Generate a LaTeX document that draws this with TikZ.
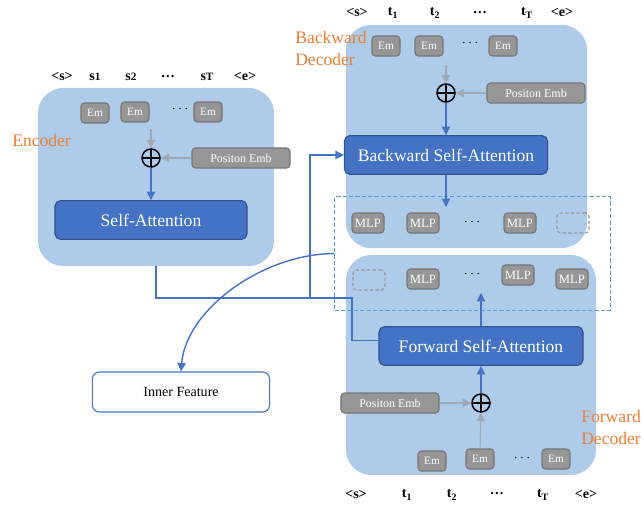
\documentclass[tikz,border=0pt]{standalone}
\usepackage{fontspec}
\setmainfont{Liberation Serif}
\usetikzlibrary{positioning,arrows.meta}
\definecolor{panelblue}{RGB}{174,204,234}
\definecolor{attblue}{RGB}{68,114,196}
\definecolor{attedge}{RGB}{47,82,143}
\definecolor{boxblue}{RGB}{91,155,213}
\definecolor{embgray}{RGB}{150,150,150}
\definecolor{embedge}{RGB}{118,118,118}
\definecolor{feedgray}{RGB}{160,168,180}
\definecolor{labelorange}{RGB}{237,125,49}
\tikzset{
  panel/.style={fill=panelblue, rounded corners=18pt, inner sep=0pt},
  attention/.style={fill=attblue, draw=attedge, thick, rounded corners=4pt, text=white, font=\fontsize{12.5}{14}\selectfont, minimum height=0.97cm},
  embed/.style={fill=embgray, draw=embedge, thick, rounded corners=2.5pt, text=white, font=\fontsize{8}{9}\selectfont, minimum width=0.7cm, minimum height=0.5cm, inner sep=0pt},
  mlp/.style={embed, minimum width=0.8cm, font=\fontsize{9}{10}\selectfont},
  empty slot/.style={draw=embgray, dash pattern=on 2.5pt off 1.5pt, thick, rounded corners=2.5pt, minimum width=0.8cm, minimum height=0.5cm, inner sep=0pt},
  posemb/.style={embed, minimum width=2.45cm, font=\fontsize{8.5}{10}\selectfont},
  token/.style={font=\bfseries\fontsize{10}{12}\selectfont, inner sep=1pt},
  dots/.style={font=\fontsize{10}{12}\selectfont, inner sep=0pt},
  plus/.style={circle, draw, line width=1.1pt, minimum size=0.45cm, inner sep=0pt,
    path picture={\draw[line width=1.1pt] (path picture bounding box.north) -- (path picture bounding box.south)
      (path picture bounding box.west) -- (path picture bounding box.east);}},
  part label/.style={text=labelorange, font=\fontsize{12.5}{15.5}\selectfont, align=left, inner sep=0pt},
  link/.style={draw=attblue, thick, -{Triangle[length=6pt,width=6pt]}},
  plain link/.style={draw=attblue, thick},
  feed/.style={draw=feedgray, thick, -{Triangle[length=6pt,width=6pt]}},
}

\begin{document}
\begin{tikzpicture}[x=0.025cm, y=-0.025cm]
\useasboundingbox (0,0) rectangle (644,512);
% the panels
\node [panel, minimum width=5.9cm, minimum height=4.45cm] (enc) at (156,177) {};
\node [panel, minimum width=6.03cm, minimum height=5.58cm] (bwd) at (466.5,136.5) {};
\node [panel, minimum width=6.25cm, minimum height=5.5cm] (fwd) at (471,365) {};
\node [draw=boxblue, dash pattern=on 3pt off 1.5pt, thick, minimum width=6.88cm, minimum height=2.83cm] (mlpbox) at (472.5,253.5) {};

% encoder
\node [part label, anchor=west] (encLabel) at (12,140) {Encoder};
\node [token] (encS) at (62,76) {<s>};
\node [token] (encS1) at (95,77) {s{\fontsize{8}{9}\selectfont 1}};
\node [token] (encS2) at (131,77) {s{\fontsize{8}{9}\selectfont 2}};
\node [token] (encDots) at (168,77) {…};
\node [token] (encST) at (207,77) {s{\fontsize{8}{9}\selectfont T}};
\node [token] (encE) at (245,76) {<e>};
\node [embed] (encEmA) at (95,113) {Em};
\node [embed] (encEmB) at (135,112) {Em};
\node [dots] (encEmDots) at (180,109) {$\cdots$};
\node [embed] (encEmC) at (208,112) {Em};
\node [plus] (encPlus) at (151,158) {};
\node [posemb] (encPos) at (241,158) {Positon Emb};
\node [attention, minimum width=4.8cm] (encAtt) at (151,220) {Self-Attention};
\coordinate (encIn) at (151,129);

% backward decoder
\node [part label, anchor=north west] (bwdLabel) at (295,31) {Backward\\Decoder};
\node [token] (bwdS) at (357,12) {<s>};
\node [token] (bwdT1) at (393,13) {t$_\mathbf{1}$};
\node [token] (bwdT2) at (435,13) {t$_\mathbf{2}$};
\node [token] (bwdDots) at (480,13) {…};
\node [token] (bwdTT) at (527,13) {t$_\mathbf{T}$};
\node [token] (bwdE) at (562,12) {<e>};
\node [embed] (bwdEmA) at (386,46) {Em};
\node [embed] (bwdEmB) at (429,46) {Em};
\node [dots] (bwdEmDots) at (470,43) {$\cdots$};
\node [embed] (bwdEmC) at (503,46) {Em};
\node [plus] (bwdPlus) at (446,93) {};
\node [posemb] (bwdPos) at (536,93) {Positon Emb};
\node [attention, minimum width=5.08cm] (bwdAtt) at (446,155) {Backward Self-Attention};
\coordinate (bwdIn) at (446,65);
\coordinate (bwdOut) at (446,207);

% MLP rows
\node [mlp] (bwdMlpA) at (368,223) {MLP};
\node [mlp] (bwdMlpB) at (423,223) {MLP};
\node [dots] (bwdMlpDots) at (472,222) {$\cdots$};
\node [mlp] (bwdMlpC) at (520,223) {MLP};
\node [empty slot] (bwdSlot) at (573,223) {};
\node [empty slot] (fwdSlot) at (369,280) {};
\node [mlp] (fwdMlpA) at (423,279) {MLP};
\node [dots] (fwdMlpDots) at (472,274) {$\cdots$};
\node [mlp] (fwdMlpB) at (518,275) {MLP};
\node [mlp] (fwdMlpC) at (572,279) {MLP};

% forward decoder
\node [attention, minimum width=5.1cm] (fwdAtt) at (481,346) {Forward Self-Attention};
\node [plus] (fwdPlus) at (481,403) {};
\node [posemb] (fwdPos) at (390,403) {Positon Emb};
\node [embed] (fwdEmA) at (432,461) {Em};
\node [embed] (fwdEmB) at (480,459) {Em};
\node [dots] (fwdEmDots) at (522,458) {$\cdots$};
\node [embed] (fwdEmC) at (556,459) {Em};
\node [part label, anchor=north west] (fwdLabel) at (581,410) {Forward\\Decoder};
\node [token] (fwdS) at (356,494) {<s>};
\node [token] (fwdT1) at (407,495) {t$_\mathbf{1}$};
\node [token] (fwdT2) at (452,495) {t$_\mathbf{2}$};
\node [token] (fwdDots) at (497,494) {…};
\node [token] (fwdTT) at (543,495) {t$_\mathbf{T}$};
\node [token] (fwdE) at (586,494) {<e>};
\coordinate (fwdOut) at (481,293);

% inner feature
\node [draw=attblue, thick, fill=white, rounded corners=5pt, minimum width=4.43cm, minimum height=1cm, font=\fontsize{10}{12}\selectfont] (inner) at (181,392) {Inner Feature};

%drawings of vectors
\draw[feed] (encIn) -- (encPlus.north);
\draw[feed] (encPos.west) -- (encPlus.east);
\draw[link] (encPlus.south) -- (encAtt.north);

\draw[feed] (bwdIn) -- (bwdPlus.north);
\draw[feed] (bwdPos.west) -- (bwdPlus.east);
\draw[link] (bwdPlus.south) -- (bwdAtt.north);
\draw[link] (bwdAtt.south) -- (bwdOut);

\draw[feed] (fwdEmB.north) -- (fwdPlus.south);
\draw[feed] (fwdPos.east) -- (fwdPlus.west);
\draw[link] (fwdPlus.north) -- (fwdAtt.south);
\draw[link] (fwdAtt.north) -- (fwdOut);

\coordinate (split) at (310,298);
\draw[plain link] (enc.south) |- (352,298) |- ([yshift=4pt]fwdAtt.west);
\draw[link] (split) |- (bwdAtt.west);

\draw[link, line width=1pt] (mlpbox.west) .. controls (262,254) and (186,310) .. (inner.north);
\end{tikzpicture}
\end{document}
